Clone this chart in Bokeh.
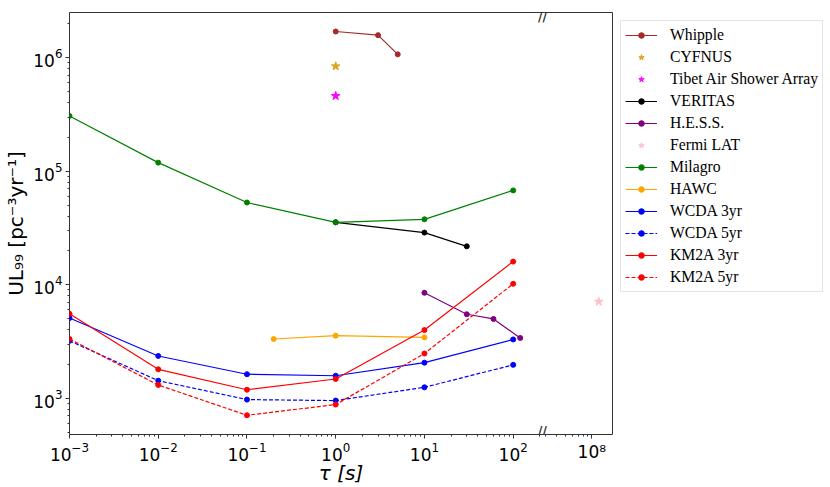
from bokeh.plotting import figure
from bokeh.models import (Range1d, FixedTicker, LogAxis, LogScale, Legend,
                          LegendItem, Label)
from bokeh.embed import file_html
from bokeh.resources import INLINE

# ---------------- data ----------------
tau_grid = [1e-3, 1e-2, 1e-1, 1, 10, 100]

whipple_x = [1, 3, 5]
whipple_y = [1.70e6, 1.58e6, 1.07e6]
cyfnus_x = [1]
cyfnus_y = [8.4e5]
tibet_x = [1]
tibet_y = [4.6e5]
veritas_x = [1, 10, 30]
veritas_y = [3.55e4, 2.88e4, 2.18e4]
hess_x = [10, 30, 60, 120]
hess_y = [8.5e3, 5.5e3, 5.0e3, 3.4e3]
fermi_x = [1.2e8]
fermi_y = [7.1e3]
milagro_x = tau_grid
milagro_y = [3.07e5, 1.19e5, 5.3e4, 3.55e4, 3.77e4, 6.78e4]
hawc_x = [0.2, 1, 10]
hawc_y = [3.33e3, 3.56e3, 3.44e3]
wcda3_y = [5.09e3, 2.36e3, 1.63e3, 1.58e3, 2.06e3, 3.30e3]
wcda5_y = [3.21e3, 1.43e3, 974, 955, 1.25e3, 1.97e3]
km2a3_y = [5.55e3, 1.80e3, 1.19e3, 1.48e3, 3.99e3, 1.60e4]
km2a5_y = [3.33e3, 1.31e3, 709, 881, 2.48e3, 1.02e4]

x_major_left = [1e-3, 1e-2, 1e-1, 1, 10, 100]
x_major_right = [1e8]
x_right_labels = ["10⁸"]
y_major = [1e3, 1e4, 1e5, 1e6]

# ---------------- broken x axis limits ----------------
X_MIN = 1e-3            # left end of the main segment
X_BREAK_LO = 214.0      # main segment ends here ...
X_BREAK_HI = 2.78e7     # ... and the far segment starts here
X_MAX = 1.71e8          # right end of the far segment
Y_MIN, Y_MAX = 480.0, 2.5e6

# both segments share one frame: the far segment gets its own log range,
# aligned so that X_BREAK_LO and X_BREAK_HI fall on the same pixel
SHIFT = X_BREAK_HI / X_BREAK_LO
main_end = X_MAX / SHIFT
right_start = X_MIN * SHIFT

x_minor_left = [k * 10.0 ** d for d in range(-3, 3) for k in range(2, 10)
                if k * 10.0 ** d <= X_BREAK_LO]
x_minor_right = [k * 1e7 for k in range(2, 10) if k * 1e7 >= X_BREAK_HI]
y_minor = [k * 10.0 ** d for d in range(2, 7) for k in range(2, 10)]

# (label, xs, ys, color, line?, dash, marker, size, segment)
series = [
    ("Whipple", whipple_x, whipple_y, "#A52A2A", True, "solid", "circle", 5, "main"),
    ("CYFNUS", cyfnus_x, cyfnus_y, "#DAA520", False, "solid", "star", 9, "main"),
    ("Tibet Air Shower Array", tibet_x, tibet_y, "#FF00FF", False, "solid", "star", 9, "main"),
    ("VERITAS", veritas_x, veritas_y, "#000000", True, "solid", "circle", 5, "main"),
    ("H.E.S.S.", hess_x, hess_y, "#800080", True, "solid", "circle", 5, "main"),
    ("Fermi LAT", fermi_x, fermi_y, "#FFC0CB", False, "solid", "star", 9, "right"),
    ("Milagro", milagro_x, milagro_y, "#008000", True, "solid", "circle", 5, "main"),
    ("HAWC", hawc_x, hawc_y, "#FFA500", True, "solid", "circle", 5, "main"),
    ("WCDA 3yr", tau_grid, wcda3_y, "#0000FF", True, "solid", "circle", 5, "main"),
    ("WCDA 5yr", tau_grid, wcda5_y, "#0000FF", True, "4 2", "circle", 5, "main"),
    ("KM2A 3yr", tau_grid, km2a3_y, "#FF0000", True, "solid", "circle", 5, "main"),
    ("KM2A 5yr", tau_grid, km2a5_y, "#FF0000", True, "4 2", "circle", 5, "main"),
]

SPINE = "#333333"
FONT = "DejaVu Sans"

p = figure(height=487, frame_width=543, x_axis_type="log", y_axis_type="log",
           x_range=Range1d(X_MIN, main_end), y_range=Range1d(Y_MIN, Y_MAX),
           x_axis_location=None, y_axis_location=None,
           output_backend="svg", toolbar_location=None,
           min_border_left=69, min_border_right=0,
           min_border_top=12, min_border_bottom=52)
p.extra_x_ranges = {"right": Range1d(right_start, X_MAX)}
p.extra_x_scales = {"right": LogScale()}
p.outline_line_color = SPINE
p.outline_line_width = 1
p.xgrid.visible = False
p.ygrid.visible = False


def style_axis(ax):
    ax.axis_line_color = None
    ax.major_tick_line_color = SPINE
    ax.minor_tick_line_color = SPINE
    ax.major_tick_out = 4
    ax.major_tick_in = 0
    ax.minor_tick_out = 2
    ax.minor_tick_in = 0
    ax.major_label_text_font = FONT
    ax.major_label_text_font_size = "17px"
    ax.major_label_text_color = "black"
    ax.major_label_standoff = 3


# bottom axis: main-segment decades plus the far-segment decade (mapped onto
# the main range so that both share a single axis line)
far_major = [v / SHIFT for v in x_major_right]
far_minor = [v / SHIFT for v in x_minor_right]
ax_b = LogAxis(ticker=FixedTicker(ticks=x_major_left + far_major,
                                  minor_ticks=x_minor_left + far_minor))
style_axis(ax_b)
ax_b.major_label_overrides = {t: lab for t, lab in zip(far_major, x_right_labels)}
ax_b.axis_label = "τ [s]"
ax_b.axis_label_text_font = FONT
ax_b.axis_label_text_font_size = "20px"
ax_b.axis_label_text_font_style = "italic"
ax_b.axis_label_text_color = "black"
ax_b.axis_label_standoff = -4
p.add_layout(ax_b, "below")

ax_l = LogAxis(ticker=FixedTicker(ticks=y_major, minor_ticks=y_minor))
style_axis(ax_l)
ax_l.axis_label = "UL₉₉ [pc⁻³yr⁻¹]"
ax_l.axis_label_text_font = FONT
ax_l.axis_label_text_font_size = "20px"
ax_l.axis_label_text_font_style = "normal"
ax_l.axis_label_text_color = "black"
ax_l.axis_label_standoff = 2
p.add_layout(ax_l, "left")

items = []
for name, xs, ys, color, has_line, dash, marker, size, seg in series:
    kw = {} if seg == "main" else {"x_range_name": "right"}
    rs = []
    if has_line:
        rs.append(p.line(xs, ys, line_color=color, line_width=1.2,
                         line_dash=dash, **kw))
    rs.append(p.scatter(xs, ys, marker=marker, size=size, fill_color=color,
                        line_color=color, **kw))
    items.append(LegendItem(label=name, renderers=rs))

# break marks on the top and bottom spines (kept just inside the frame)
for ypos, base in ((Y_MIN, "bottom"), (Y_MAX, "top")):
    p.add_layout(Label(x=X_BREAK_LO, y=ypos, text="//", text_align="center",
                       text_baseline=base, text_font=FONT,
                       text_font_size="12px", text_font_style="bold",
                       y_offset=-3 if base == "bottom" else 3,
                       text_color=SPINE))

legend = Legend(items=items, location="top_left")
legend.label_text_font = "Liberation Serif"
legend.label_text_font_size = "15.7px"
legend.label_text_color = "black"
legend.glyph_width = 32
legend.glyph_height = 14
legend.label_height = 20
legend.label_standoff = 13
legend.spacing = 2
legend.padding = 4
legend.margin = 8
legend.border_line_color = "#cccccc"
legend.border_line_width = 1
legend.background_fill_color = "white"
legend.background_fill_alpha = 1.0
p.add_layout(legend, "right")

open("out.html", "w").write(file_html(p, INLINE))
